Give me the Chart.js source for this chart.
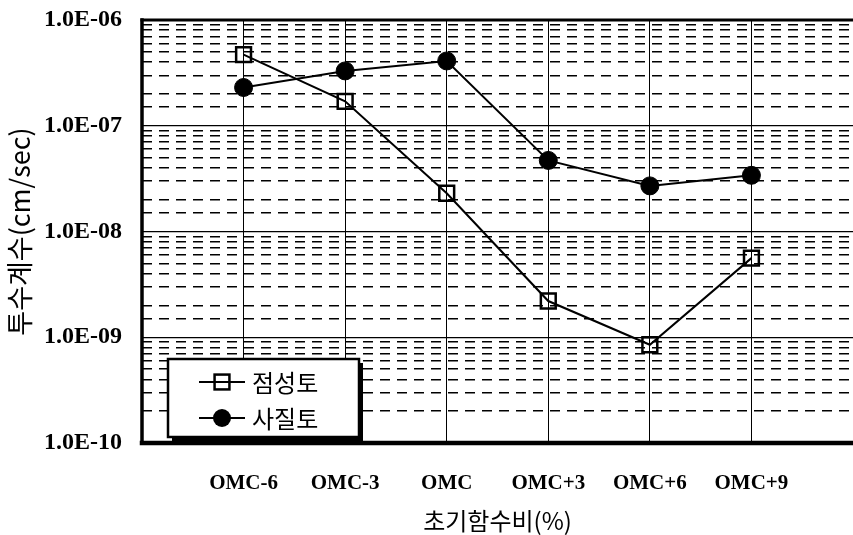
<!DOCTYPE html>
<html>
<head>
<meta charset="utf-8">
<script src="https://cdn.jsdelivr.net/npm/chart.js@4"></script>
<style>
  html, body { margin: 0; padding: 0; background: #fff; }
</style>
</head>
<body>
<canvas id="chart" width="853" height="535"></canvas>
<script>
// 데이터
const categories = ['OMC-6', 'OMC-3', 'OMC', 'OMC+3', 'OMC+6', 'OMC+9'];
const clayValues = [4.7e-7, 1.7e-7, 2.3e-8, 2.2e-9, 8.5e-10, 5.6e-9];   // 점성토
const sandValues = [2.3e-7, 3.3e-7, 4.1e-7, 4.7e-8, 2.7e-8, 3.4e-8];    // 사질토
const seriesLabels = ['점성토', '사질토'];
const yTickLabels = ['1.0E-10', '1.0E-09', '1.0E-08', '1.0E-07', '1.0E-06'];

const isMajor = v => Math.abs(Math.log10(v) - Math.round(Math.log10(v))) < 1e-6;
const toPoints = vals => vals.map((v, i) => ({ x: i + 1, y: v }));
const noPad = s => { s.paddingTop = 0; s.paddingBottom = 0; s.paddingLeft = 0; s.paddingRight = 0; };

// 프레임
const framePlugin = {
  id: 'frame',
  afterDatasetsDraw(chart) {
    const { ctx, chartArea: a } = chart;
    ctx.save();
    ctx.strokeStyle = '#000';
    ctx.lineCap = 'square';
    ctx.lineWidth = 3;
    ctx.beginPath(); ctx.moveTo(a.left, a.top); ctx.lineTo(a.right, a.top); ctx.stroke();
    ctx.lineWidth = 3.5;
    ctx.beginPath(); ctx.moveTo(a.left, a.top); ctx.lineTo(a.left, a.bottom); ctx.stroke();
    ctx.lineWidth = 4.5;
    ctx.beginPath(); ctx.moveTo(a.left, a.bottom); ctx.lineTo(a.right, a.bottom); ctx.stroke();
    ctx.restore();
  }
};

// 범례 박스
const boxLegend = {
  id: 'boxLegend',
  afterDraw(chart) {
    const ctx = chart.ctx;
    const x = 168, y = 359, w = 191, h = 78;
    ctx.save();
    ctx.fillStyle = '#000';
    ctx.fillRect(x + 4, y + 4, w, h);
    ctx.fillStyle = '#fff';
    ctx.fillRect(x, y, w, h);
    ctx.lineWidth = 2.5;
    ctx.strokeStyle = '#000';
    ctx.strokeRect(x, y, w, h);
    chart.data.datasets.forEach((ds, i) => {
      const cy = y + 23 + i * 36;
      const cx = x + 54;
      ctx.lineWidth = 2;
      ctx.beginPath(); ctx.moveTo(x + 31, cy); ctx.lineTo(x + 77, cy); ctx.stroke();
      ctx.lineWidth = ds.pointBorderWidth;
      if (ds.pointStyle === 'rect') {
        const s = ds.pointRadius * Math.SQRT1_2;
        ctx.strokeRect(cx - s, cy - s, 2 * s, 2 * s);
      } else {
        ctx.beginPath(); ctx.arc(cx, cy, ds.pointRadius, 0, Math.PI * 2);
        ctx.fillStyle = '#000'; ctx.fill();
      }
      ctx.fillStyle = '#000';
      ctx.font = '24px "Noto Sans CJK KR"';
      ctx.textBaseline = 'middle';
      ctx.fillText(ds.label, x + 84, cy + 1);
    });
    ctx.restore();
  }
};

new Chart(document.getElementById('chart'), {
  type: 'line',
  data: {
    datasets: [
      {
        label: seriesLabels[0],
        data: toPoints(clayValues),
        borderColor: '#000',
        borderWidth: 2,
        pointStyle: 'rect',
        pointRadius: 10.5,
        pointBorderWidth: 2.5,
        pointBorderColor: '#000',
        pointBackgroundColor: 'rgba(0,0,0,0)',
        tension: 0
      },
      {
        label: seriesLabels[1],
        data: toPoints(sandValues),
        borderColor: '#000',
        borderWidth: 2,
        pointStyle: 'circle',
        pointRadius: 9,
        pointBorderWidth: 1,
        pointBorderColor: '#000',
        pointBackgroundColor: '#000',
        tension: 0
      }
    ]
  },
  options: {
    responsive: false,
    animation: false,
    layout: { autoPadding: false, padding: { top: 20, right: 0, bottom: 0, left: 0 } },
    plugins: { legend: { display: false }, tooltip: { enabled: false } },
    scales: {
      x: {
        type: 'linear',
        min: 0,
        max: 7,
        afterFit: s => { s.height = 92; noPad(s); },
        grid: { color: '#000', lineWidth: 1, drawTicks: false },
        border: { display: false },
        ticks: {
          stepSize: 1,
          autoSkip: false,
          maxRotation: 0,
          padding: 28,
          color: '#000',
          font: { family: '"Liberation Serif"', size: 21, weight: 'bold' },
          callback: v => categories[v - 1] || ''
        },
        title: {
          display: true,
          text: '초기함수비(%)',
          color: '#000',
          font: { family: '"Noto Sans CJK KR"', size: 24 },
          padding: { top: 0, bottom: 0 }
        }
      },
      y: {
        type: 'logarithmic',
        min: 1e-10,
        max: 1e-6,
        afterFit: s => { s.width = 142; noPad(s); },
        grid: {
          drawTicks: false,
          lineWidth: 1.2,
          color: c => (c.tick && isMajor(c.tick.value)) ? '#000' : 'rgba(0,0,0,0)'
        },
        border: { display: false },
        ticks: {
          autoSkip: false,
          padding: 20,
          color: '#000',
          font: { family: '"Liberation Serif"', size: 24, weight: 'bold' },
          callback: v => isMajor(v) ? yTickLabels[Math.round(Math.log10(v)) + 10] : ''
        },
        title: {
          display: true,
          text: '투수계수(cm/sec)',
          color: '#000',
          font: { family: '"Noto Sans CJK KR"', size: 27 },
          padding: { top: 4, bottom: 0 }
        }
      },
      yMinor: {
        type: 'logarithmic',
        position: 'left',
        min: 1e-10,
        max: 1e-6,
        afterFit: s => { s.width = 0; noPad(s); },
        grid: {
          drawTicks: false,
          lineWidth: 1.5,
          color: c => (c.tick && !isMajor(c.tick.value)) ? '#000' : 'rgba(0,0,0,0)'
        },
        border: { display: false, dash: [10, 7] },
        ticks: { display: false, autoSkip: false }
      }
    }
  },
  plugins: [framePlugin, boxLegend]
});
</script>
</body>
</html>
